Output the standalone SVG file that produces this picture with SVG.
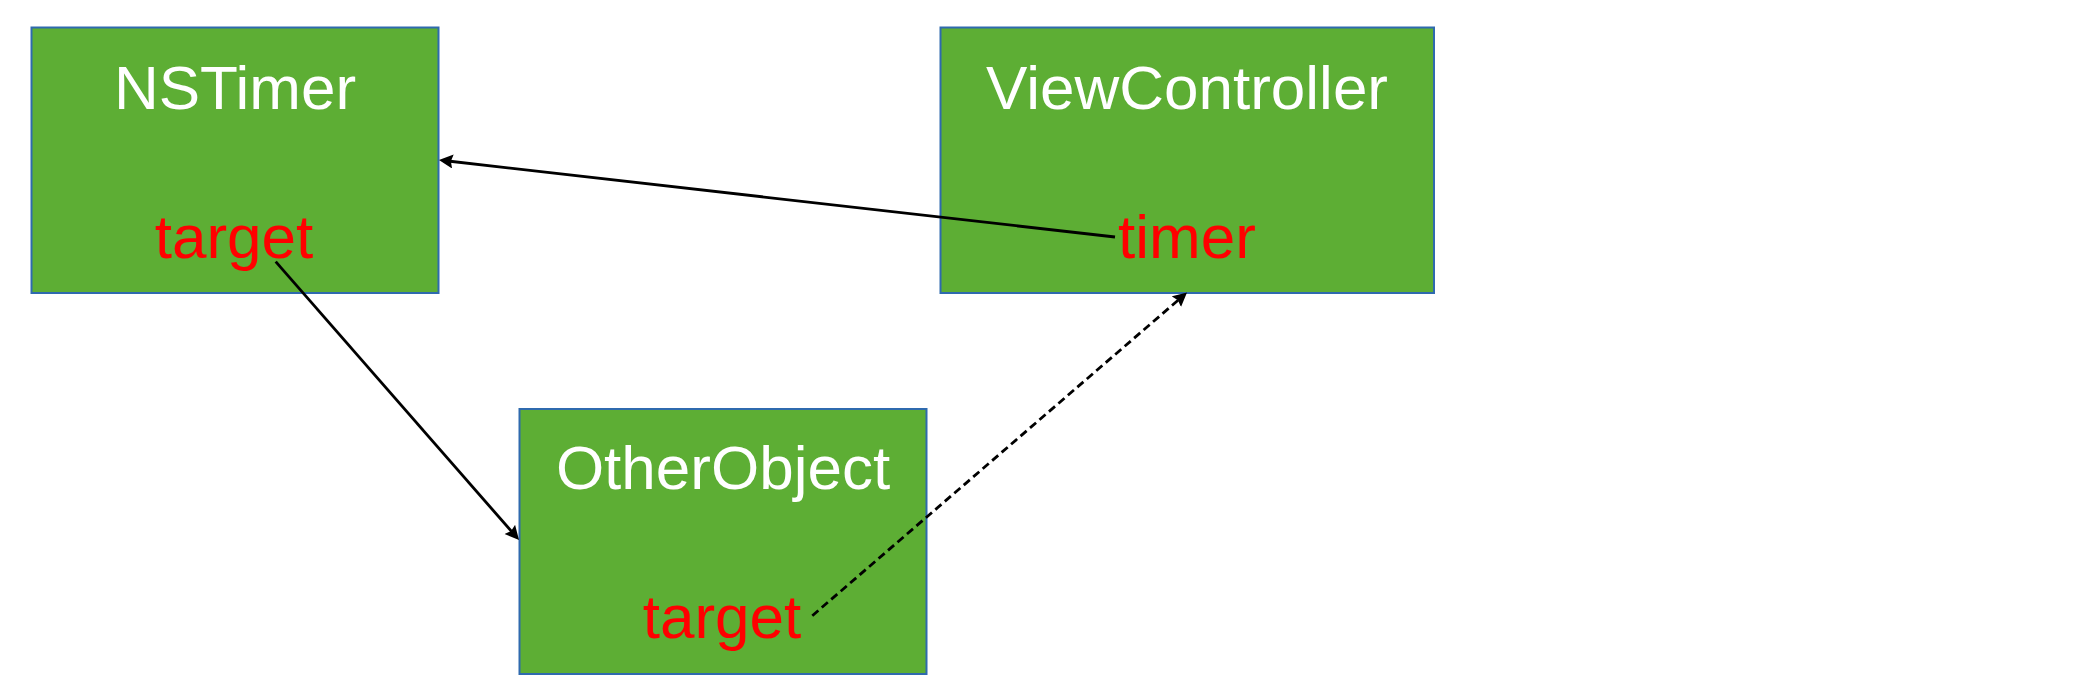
<svg xmlns="http://www.w3.org/2000/svg" width="2096" height="694" viewBox="0 0 2096 694">
  <style>
    .box { fill: #5DAE34; stroke: #2F6AAE; stroke-width: 2; }
    .title { font-family: "Liberation Sans", Arial, Helvetica, sans-serif; font-size: 62px; fill: #FFFFFF; text-anchor: middle; }
    .field { font-family: "Liberation Sans", Arial, Helvetica, sans-serif; font-size: 62px; fill: #FF0000; text-anchor: middle; }
    .conn { fill: none; stroke: #000000; stroke-width: 2.8; }
    .dashed { stroke-dasharray: 8 4.5; }
  </style>
  <defs>
    <marker id="arrow" markerUnits="userSpaceOnUse" markerWidth="16" markerHeight="16" viewBox="0 0 16 16" refX="5" refY="7" orient="auto">
      <path d="M0,0 L14,7 L0,14 L2,7 z" fill="#000000"/>
    </marker>
  </defs>
  <rect width="2096" height="694" fill="#FFFFFF"/>
  <g id="NSTimer">
    <rect class="box" x="31.5" y="27.5" width="407" height="265.5"/>
    <text class="title" x="235" y="109">NSTimer</text>
    <text class="field" x="234" y="258">target</text>
  </g>
  <g id="ViewController">
    <rect class="box" x="940.5" y="27.5" width="493.5" height="265.5"/>
    <text class="title" x="1187" y="109">ViewController</text>
    <text class="field" x="1187" y="258">timer</text>
  </g>
  <g id="OtherObject">
    <rect class="box" x="519.5" y="409" width="407" height="265"/>
    <text class="title" x="723" y="489">OtherObject</text>
    <text class="field" x="722" y="638">target</text>
  </g>
  <g id="connectors">
    <line class="conn" x1="1115" y1="237" x2="447.9" y2="161" marker-end="url(#arrow)"/>
    <line class="conn" x1="275.7" y1="261.7" x2="513.1" y2="533.2" marker-end="url(#arrow)"/>
    <line class="conn dashed" x1="812.3" y1="615.7" x2="1180.2" y2="298.4" marker-end="url(#arrow)"/>
  </g>
</svg>
